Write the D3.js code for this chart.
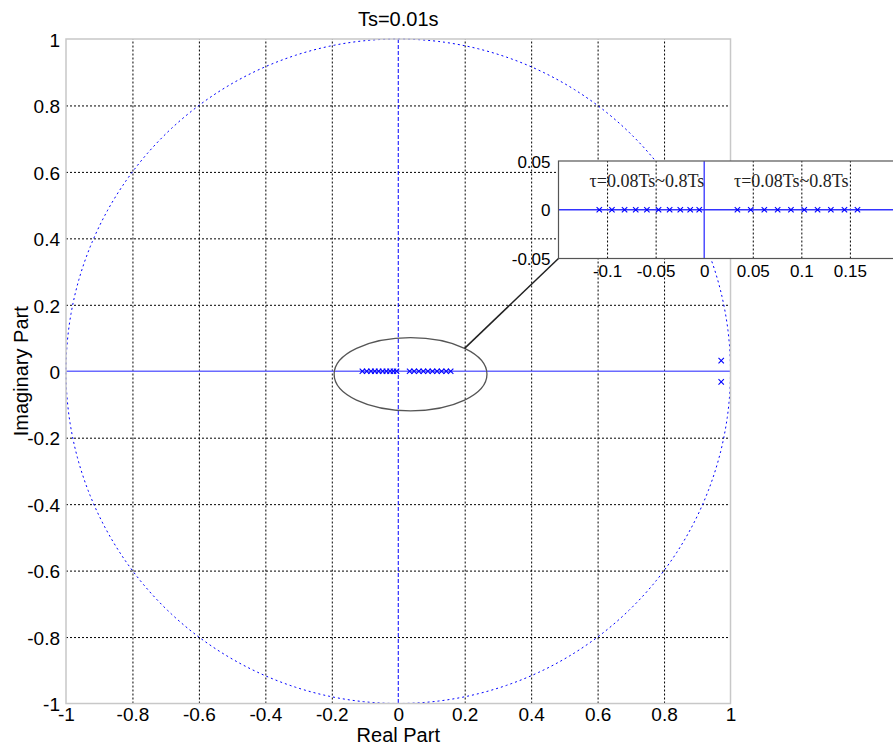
<!DOCTYPE html>
<html><head><meta charset="utf-8">
<script src="https://cdn.jsdelivr.net/npm/d3@7"></script>
<style>body{margin:0;background:#fff}svg{display:block}</style>
</head><body>
<svg id="c" width="893" height="746"></svg>
<script>
// ---- data ----
const title = "Ts=0.01s";
const xLabel = "Real Part";
const yLabel = "Imaginary Part";
const mainTicks = [-1,-0.8,-0.6,-0.4,-0.2,0,0.2,0.4,0.6,0.8,1];
const mainGrid = [-0.8,-0.6,-0.4,-0.2,0.2,0.4,0.6,0.8];
const leftGroupRe = [-0.108,-0.095,-0.082,-0.0705,-0.059,-0.047,-0.0356,-0.0246,-0.0144,-0.0051];
const rightGroupRe = [0.0342,0.0479,0.0619,0.0756,0.0893,0.103,0.1167,0.1304,0.1444,0.1578];
const polePairRe = [0.972,0.972];
const polePairIm = [0.032,-0.032];
const insetXTicks = [-0.1,-0.05,0,0.05,0.1,0.15];
const insetXGrid = [-0.1,-0.05,0.05,0.1,0.15];
const insetYTicks = [-0.05,0,0.05];
const insetXDomain = [-0.15,0.2];
const insetYDomain = [-0.05,0.05];
const annotText = ["τ=0.08Ts~0.8Ts","τ=0.08Ts~0.8Ts"];
const annotX = [-0.118,0.0306];
const annotY = [0.0232,0.0232];
const ellipse = {cx:0.037, cy:-0.009, rx:0.23, ry:0.11};

const poles = leftGroupRe.concat(rightGroupRe).map(v=>({re:v,im:0}))
  .concat(polePairRe.map((v,i)=>({re:v,im:polePairIm[i]})));

const fmt = v => String(+v.toFixed(2));
const svg = d3.select("#c");
svg.append("rect").attr("width",893).attr("height",746).attr("fill","#fff");

const L=66,R=730.5,T=39,B=703.5;
const x = d3.scaleLinear([-1,1],[L,R]);
const y = d3.scaleLinear([-1,1],[B,T]);
const SANS = "Arial, 'Liberation Sans', sans-serif";

// grid
const gx = svg.append("g").attr("transform",`translate(0,${B})`)
  .call(d3.axisBottom(x).tickValues(mainGrid).tickSize(-(B-T)).tickFormat(""));
const gy = svg.append("g").attr("transform",`translate(${L},0)`)
  .call(d3.axisLeft(y).tickValues(mainGrid).tickSize(-(R-L)).tickFormat(""));
[gx,gy].forEach(g=>{g.select(".domain").remove();
  g.selectAll("line").attr("stroke","#000").attr("stroke-width",1).attr("stroke-dasharray","2,2");});

// unit circle
const circ = d3.range(0,361,1).map(a=>[Math.cos(a*Math.PI/180),Math.sin(a*Math.PI/180)]);
const line = d3.line().x(d=>x(d[0])).y(d=>y(d[1]));
svg.append("path").attr("d",line(circ)).attr("fill","none")
  .attr("stroke","#0000ff").attr("stroke-width",1).attr("stroke-dasharray","2,3");

// axes lines
svg.append("line").attr("x1",x(0)).attr("x2",x(0)).attr("y1",T).attr("y2",B)
  .attr("stroke","#0000ff").attr("stroke-width",1).attr("stroke-dasharray","4,2");
svg.append("line").attr("x1",L).attr("x2",R).attr("y1",y(0)).attr("y2",y(0))
  .attr("stroke","#6a6aff").attr("stroke-width",1.6);

// markers
function xMark(g, data, sx, sy, s){
  g.selectAll(null).data(data).enter().append("path")
    .attr("d",d=>{const cx=sx(d.re),cy=sy(d.im);
      return `M${cx-s},${cy-s}L${cx+s},${cy+s}M${cx-s},${cy+s}L${cx+s},${cy-s}`;})
    .attr("stroke","#0000ff").attr("stroke-width",1.1).attr("fill","none");
}
xMark(svg, poles, x, y, 2.7);

// ellipse
svg.append("ellipse").attr("cx",x(ellipse.cx)).attr("cy",y(ellipse.cy))
  .attr("rx",x(ellipse.rx)-x(0)).attr("ry",y(0)-y(ellipse.ry))
  .attr("fill","none").attr("stroke","#555").attr("stroke-width",1.3);

// box
svg.append("rect").attr("x",L).attr("y",T).attr("width",R-L).attr("height",B-T)
  .attr("fill","none").attr("stroke","#c8c8c8").attr("stroke-width",1.5);

// tick labels
const ax = svg.append("g").attr("transform",`translate(0,${B})`)
  .call(d3.axisBottom(x).tickValues(mainTicks).tickSize(0).tickPadding(4).tickFormat(fmt));
const ay = svg.append("g").attr("transform",`translate(${L},0)`)
  .call(d3.axisLeft(y).tickValues(mainTicks).tickSize(0).tickPadding(6).tickFormat(fmt));
[ax,ay].forEach(g=>{g.select(".domain").remove();
  g.selectAll("text").attr("font-family",SANS).attr("font-size",19).attr("fill","#000");});
ay.selectAll("text").attr("dy","0.38em");

// titles
svg.append("text").attr("x",x(0)).attr("y",26).attr("text-anchor","middle")
  .attr("font-family",SANS).attr("font-size",20).text(title);
svg.append("text").attr("x",x(0)).attr("y",742).attr("text-anchor","middle")
  .attr("font-family",SANS).attr("font-size",20).text(xLabel);
svg.append("text").attr("transform",`translate(28,${y(0)}) rotate(-90)`).attr("text-anchor","middle")
  .attr("font-family",SANS).attr("font-size",20).text(yLabel);

// ---- inset ----
const IL=558.5, IT=161, IB=258.5;
const ix = d3.scaleLinear(insetXDomain,[IL, IL+(704.2-IL)/0.15*0.35]);
const iy = d3.scaleLinear(insetYDomain,[IB,IT]);
const IR = ix(insetXDomain[1]);

// connector
const ang = Math.PI/4;
const ex = x(ellipse.cx)+(x(ellipse.rx)-x(0))*Math.cos(ang);
const ey = y(ellipse.cy)-(y(0)-y(ellipse.ry))*Math.sin(ang);
svg.append("line").attr("x1",ex).attr("y1",ey).attr("x2",IL+1).attr("y2",IB-1)
  .attr("stroke","#222").attr("stroke-width",1.5);

const ins = svg.append("g");
ins.append("rect").attr("x",IL).attr("y",IT).attr("width",IR-IL).attr("height",IB-IT).attr("fill","#fff");
const igx = ins.append("g").attr("transform",`translate(0,${IB})`)
  .call(d3.axisBottom(ix).tickValues(insetXGrid).tickSize(-(IB-IT)).tickFormat(""));
igx.select(".domain").remove();
igx.selectAll("line").attr("stroke","#000").attr("stroke-width",1).attr("stroke-dasharray","2,2");
ins.append("line").attr("x1",ix(0)).attr("x2",ix(0)).attr("y1",IT).attr("y2",IB)
  .attr("stroke","#3333ff").attr("stroke-width",1.3);
ins.append("line").attr("x1",IL).attr("x2",IR).attr("y1",iy(0)).attr("y2",iy(0))
  .attr("stroke","#3333ff").attr("stroke-width",1.3);
xMark(ins, poles.filter(p=>p.re<insetXDomain[1]), ix, iy, 2.7);
ins.selectAll(null).data(annotText).enter().append("text")
  .attr("x",(d,i)=>ix(annotX[i])).attr("y",(d,i)=>iy(annotY[i]))
  .attr("font-family","'Times New Roman','Liberation Serif',serif").attr("font-size",18)
  .attr("fill","#222").text(d=>d);
ins.append("rect").attr("x",IL).attr("y",IT).attr("width",IR-IL).attr("height",IB-IT)
  .attr("fill","none").attr("stroke","#555").attr("stroke-width",1.2);

const iax = ins.append("g").attr("transform",`translate(0,${IB})`)
  .call(d3.axisBottom(ix).tickValues(insetXTicks).tickSize(0).tickPadding(6).tickFormat(fmt));
const iay = ins.append("g").attr("transform",`translate(${IL},0)`)
  .call(d3.axisLeft(iy).tickValues(insetYTicks).tickSize(0).tickPadding(8).tickFormat(fmt));
[iax,iay].forEach(g=>{g.select(".domain").remove();
  g.selectAll("text").attr("font-family",SANS).attr("font-size",17).attr("fill","#000");});
iay.selectAll("text").attr("dy","0.36em");
</script>
</body></html>
